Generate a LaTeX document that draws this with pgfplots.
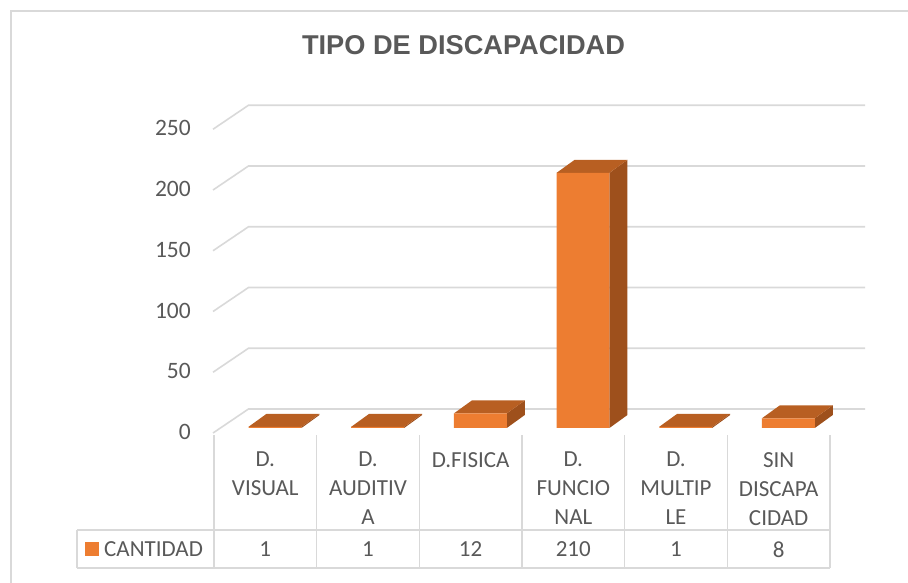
\documentclass[border=0pt]{standalone}
\usepackage{pgfplots}
\usepackage{pgfplotstable}
\pgfplotsset{compat=1.18}
\usepackage{fontspec}
\setmainfont{Carlito}
\newfontfamily\titlefont{Liberation Sans}
\definecolor{frontC}{HTML}{ED7D31}
\definecolor{topC}{HTML}{B85F22}
\definecolor{sideC}{HTML}{9E501C}
\definecolor{gridC}{HTML}{D9D9D9}
\definecolor{txtC}{HTML}{595959}

\pgfplotstableread{
x value
0 1
1 1
2 12
3 210
4 1
5 8
}\datatable

\begin{document}
\begin{tikzpicture}
\useasboundingbox (0,0) rectangle (908pt,582pt);
% ---- pixel-coordinate scope for frame, grid, labels, table
\begin{scope}[yshift=582pt, x=1pt, y=-1pt]
  \draw[gridC, line width=1.5pt] (11,600) -- (11,11) -- (930,11);
  \node[anchor=base, text=txtC, font={\titlefont\bfseries\fontsize{27.2}{32}\selectfont}] at (463.5,55) {TIPO DE DISCAPACIDAD};
  % gridlines (side wall + back wall)
  \foreach \v in {0,50,...,250}{
    \draw[gridC, line width=1.6pt] (213,{433-1.215*\v}) -- (248.5,{409-1.215*\v}) -- (865,{409-1.215*\v});
    \node[anchor=east, inner sep=0pt, text=txtC, font={\fontsize{23.5}{27}\selectfont}] at (191,{432-1.215*\v}) {\v};
  }
  % table
  \foreach \k in {0,...,6}{
    \draw[gridC, line width=1.5pt] ({214+102.67*\k},435) -- ({214+102.67*\k},568);
  }
  \draw[gridC, line width=1.5pt] (77,530) -- (830,530);
  \draw[gridC, line width=1.5pt] (77,568) -- (830,568);
  \draw[gridC, line width=1.5pt] (77,530) -- (77,568);
  \foreach \k/\t in {0/{D.\\VISUAL},1/{D.\\AUDITIV\\A},2/{D.FISICA},3/{D.\\FUNCIO\\NAL},4/{D.\\MULTIP\\LE},5/{SIN\\DISCAPA\\CIDAD}}{
    \node[anchor=north, inner sep=0pt, align=center, text=txtC, font={\fontsize{23}{29}\selectfont}] at ({265.3+102.67*\k},452) {\t};
  }
  \fill[frontC] (85,542) rectangle (99,556);
  \node[anchor=base west, inner sep=0pt, text=txtC, font={\fontsize{23}{27}\selectfont}] at (104,556) {CANTIDAD};
\end{scope}
% ---- data axis (bar front plane)
\begin{axis}[
  at={(0,0)}, anchor=south west,
  x=102.67pt, y=1.215pt,
  xmin=-2.6785, xmax=6.1654,
  ymin=-126.75, ymax=352.26,
  hide axis, clip=false,
  /pgf/number format/assume math mode=true,
]
\pgfplotsforeachungrouped \i in {0,...,5}{%
  \pgfplotstablegetelem{\i}{value}\of\datatable
  \pgfmathsetmacro\va{\pgfplotsretval}%
  \pgfmathsetmacro\vb{\pgfplotsretval+10.7}%
  \pgfmathsetmacro\xl{\i-0.2575}%
  \pgfmathsetmacro\xr{\i+0.2575}%
  \pgfmathsetmacro\xbr{\i+0.4328}%
  \pgfmathsetmacro\xbl{\i-0.0822}%
  \edef\cmd{%
    \noexpand\addplot[fill=sideC, draw=none] coordinates {(\xr,0) (\xbr,10.7) (\xbr,\vb) (\xr,\va)} --cycle;
    \noexpand\addplot[fill=topC, draw=none] coordinates {(\xl,\va) (\xr,\va) (\xbr,\vb) (\xbl,\vb)} --cycle;
  }\cmd
}
\addplot[ybar, bar width=0.515, fill=frontC, draw=none] table[x=x, y=value] {\datatable};
\addplot[draw=none, mark=none, nodes near coords={\pgfmathprintnumber[assume math mode=true]{\pgfplotspointmeta}}, point meta=explicit,
  every node near coord/.style={anchor=center, inner sep=0pt, text=txtC, font={\fontsize{23}{27}\selectfont}}]
  table[x expr=\thisrow{x}-0.0945, y expr=-100, meta=value] {\datatable};
\end{axis}
\end{tikzpicture}
\end{document}
